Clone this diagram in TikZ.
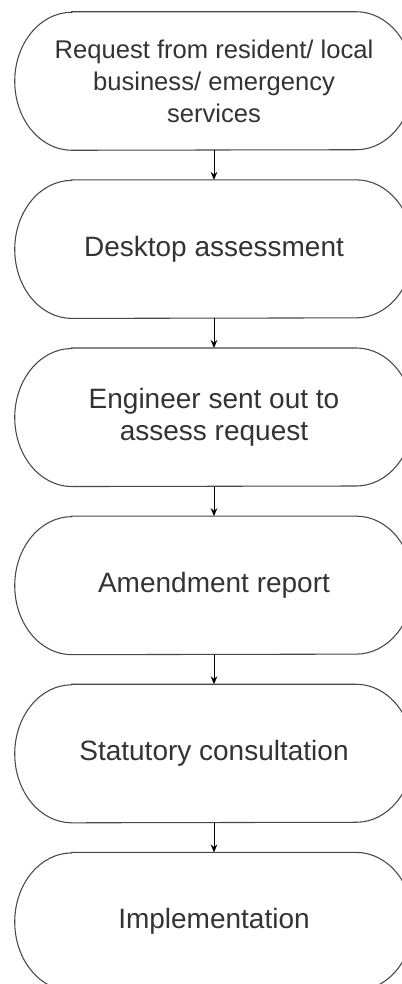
\documentclass[tikz,border=0pt]{standalone}
\usepackage{fontspec}
\setmainfont{Liberation Sans}
\usetikzlibrary{positioning,arrows.meta}
\definecolor{textgray}{HTML}{333333}
\definecolor{linegray}{HTML}{474747}

\begin{document}
\begin{tikzpicture}[node distance=22.2pt,
        every node/.style={minimum width=298.5pt, minimum height=103.5pt, align=center,
            text=textgray, font=\fontsize{21}{24}\selectfont},
        outline/.style={draw=linegray, line width=0.8pt},
        flow/.style={-{Stealth[length=6pt, width=5pt]}, line width=0.75pt}]
            \useasboundingbox (0,0) rectangle (301.5pt,-738pt);

            \node (A) at (160.5pt,-60.75pt) [font=\fontsize{19.2}{24}\selectfont] {Request from resident/ local\\business/ emergency\\services};
            \node (B) [below=of A] {Desktop assessment};
            \node (C) [below=of B] {Engineer sent out to\\assess request};
            \node (D) [below=of C] {Amendment report};
            \node (E) [below=of D] {Statutory consultation};
            \node (F) [below=of E] {Implementation};

            % stadium outlines with elliptic ends
            \foreach \n in {A,B,C,D,E,F}
                \draw[outline] ([xshift=42.75pt]\n.north west) -- ([xshift=-42.75pt]\n.north east)
                    arc[start angle=90, end angle=-90, x radius=42.75pt, y radius=51.75pt]
                    -- ([xshift=42.75pt]\n.south west)
                    arc[start angle=270, end angle=90, x radius=42.75pt, y radius=51.75pt] -- cycle;

            \draw[flow] (A) -- (B);
            \draw[flow] (B) -- (C);
            \draw[flow] (C) -- (D);
            \draw[flow] (D) -- (E);
            \draw[flow] (E) -- (F);
        \end{tikzpicture}
\end{document}
